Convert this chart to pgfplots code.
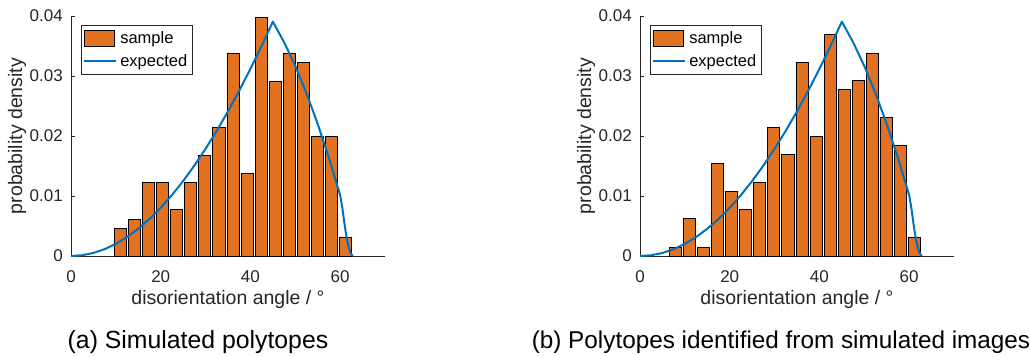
\documentclass[border=0pt]{standalone}
\usepackage{fontspec}
\setmainfont{Liberation Sans}
\usepackage{pgfplots}
\pgfplotsset{compat=1.18}
\usepackage{pgfplotstable}

\definecolor{barorange}{RGB}{226,113,34}
\definecolor{curveblue}{RGB}{0,114,189}
\definecolor{axisgray}{RGB}{38,38,38}

% histogram of simulated polytopes (bin centre, density)
\pgfplotstableread{
x y
10.99 0.0046
14.13 0.0061
17.27 0.0122
20.41 0.0122
23.55 0.0077
26.69 0.0122
29.83 0.0168
32.97 0.0214
36.11 0.0337
39.25 0.0138
42.39 0.0398
45.53 0.0291
48.67 0.0337
51.81 0.0322
54.95 0.0199
58.09 0.0199
61.23 0.0031
}\histA

% histogram of polytopes identified from images
\pgfplotstableread{
x y
7.85 0.0015
10.99 0.0062
14.13 0.0015
17.27 0.0154
20.41 0.0108
23.55 0.0077
26.69 0.0123
29.83 0.0215
32.97 0.0169
36.11 0.0323
39.25 0.0200
42.39 0.0369
45.53 0.0277
48.67 0.0292
51.81 0.0338
54.95 0.0231
58.09 0.0185
61.23 0.0031
}\histB

% Mackenzie density for cubic symmetry (per degree)
\pgfplotstableread{
x y
0 0
2.5 0.000127
5 0.000507
7.5 0.001141
10 0.002026
12.5 0.003161
15 0.004543
17.5 0.006171
20 0.008041
22.5 0.010149
25 0.012492
27.5 0.015065
30 0.017863
32.5 0.020881
35 0.024113
37.5 0.027553
40 0.031194
42.5 0.035030
45 0.039052
47.5 0.035647
50 0.031666
52.5 0.027117
55 0.022009
57.5 0.016351
60 0.010154
60.5 0.0080
61.0 0.0052
61.5 0.0028
62.0 0.0012
62.4 0.0004
62.8 0
}\mackenzie

\pgfplotsset{
  histaxis/.style={
    scale only axis, width=314pt, height=240pt,
    xmin=0, xmax=70, ymin=0, ymax=0.04,
    clip=false,
    axis x line=bottom, axis y line=left,
    axis line style={-, draw=axisgray, line width=0.8pt},
    tick align=inside, major tick length=3.5pt,
    tick style={draw=axisgray, line width=0.8pt},
    xtick={0,20,40,60}, xticklabels={0,20,40,60},
    ytick={0,0.01,0.02,0.03,0.04}, yticklabels={0,0.01,0.02,0.03,0.04},
    scaled y ticks=false,
    ticklabel style={font=\fontsize{17}{20}\selectfont, text=axisgray, inner sep=0pt},
    xticklabel shift=14pt, yticklabel shift=8pt,
    xlabel={disorientation angle / °},
    xlabel style={font=\fontsize{19.5}{22}\selectfont, text=axisgray, inner sep=0pt,
      at={(axis description cs:0.5,-0.1417)}, anchor=north},
    ylabel={probability density},
    ylabel style={font=\fontsize{19.5}{22}\selectfont, text=axisgray, inner sep=0pt,
      at={(axis description cs:-0.172,0.5)}, anchor=center},
    legend style={at={(axis description cs:0.0318,0.9625)}, anchor=north west,
      draw=axisgray, line width=0.6pt, fill=white,
      inner xsep=2pt, inner ysep=1pt,
      font=\fontsize{16.5}{19}\selectfont, text=black,
      nodes={inner xsep=3pt, inner ysep=5pt}, cells={anchor=west}},
  },
  barstyle/.style={ybar, bar width=2.7, fill=barorange, draw=black, line width=0.8pt,
    legend image code/.code={\draw[#1] (0pt,-8pt) rectangle (30pt,8pt);}},
  curvestyle/.style={curveblue, line width=2pt, line join=round,
    legend image code/.code={\draw[#1] (0pt,0pt) -- (32pt,0pt);}},
}

\begin{document}
\begin{tikzpicture}
\path[use as bounding box] (0,0) rectangle (1030pt,-356pt);

\begin{axis}[histaxis, at={(71pt,-256pt)}, anchor=south west]
  \addplot[barstyle] table[x=x, y=y] {\histA};
  \addlegendentry{sample}
  \addplot[curvestyle] table[x=x, y=y] {\mackenzie};
  \addlegendentry{expected}
\end{axis}

\begin{axis}[histaxis, at={(640pt,-256pt)}, anchor=south west]
  \addplot[barstyle] table[x=x, y=y] {\histB};
  \addlegendentry{sample}
  \addplot[curvestyle] table[x=x, y=y] {\mackenzie};
  \addlegendentry{expected}
\end{axis}

\node[anchor=base, font=\fontsize{24.8}{28}\selectfont, text=black] at (198pt,-348pt) {(a) Simulated polytopes};
\node[anchor=base, font=\fontsize{24.3}{28}\selectfont, text=black] at (781pt,-348pt) {(b) Polytopes identified from simulated images};
\end{tikzpicture}
\end{document}
